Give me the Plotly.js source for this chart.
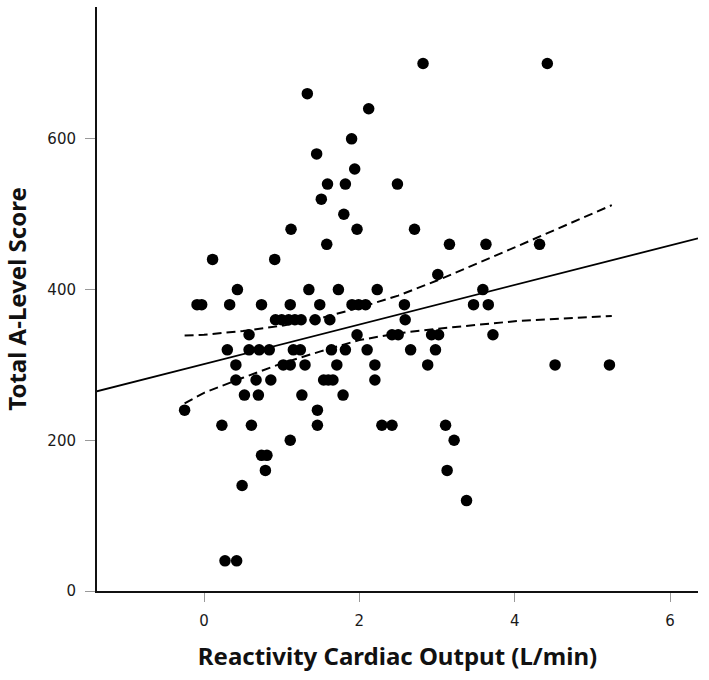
<!DOCTYPE html>
<html>
<head>
<meta charset="utf-8">
<script src="https://cdn.plot.ly/plotly-3.0.1.min.js"></script>
<style>
  html, body { margin: 0; padding: 0; background: #ffffff; }
  #chart { width: 709px; height: 680px; }
</style>
</head>
<body>
<div id="chart"></div>
<script>
// Observed points: Reactivity Cardiac Output (L/min) vs Total A-Level Score
const reactivityCO = [
  2.82, 4.42,
  1.33,
  2.12,
  1.90,
  1.45,
  1.94,
  1.59, 1.82, 2.49,
  1.51,
  1.80,
  1.12, 1.97, 2.71,
  1.58, 3.16, 3.63, 4.32,
  0.11, 0.91,
  3.01,
  0.43, 1.35, 1.73, 2.23, 3.59,
  -0.09, -0.03, 0.33, 0.74, 1.11, 1.49, 1.905, 1.99, 2.08, 2.58, 3.47, 3.66,
  0.92, 1.00, 1.09, 1.17, 1.25, 1.43, 1.62, 2.59,
  0.58, 1.97, 2.42, 2.50, 2.93, 3.02, 3.72,
  0.30, 0.58, 0.71, 0.84, 1.15, 1.24, 1.64, 1.82, 2.10, 2.66, 2.98,
  0.41, 1.02, 1.11, 1.30, 1.71, 2.20, 2.88, 4.52, 5.22,
  0.41, 0.67, 0.86, 1.54, 1.60, 1.66, 2.20,
  0.52, 0.70, 1.26, 1.79,
  -0.25, 1.46,
  0.23, 0.61, 1.46, 2.29, 2.42, 3.11,
  1.11, 3.22,
  0.74, 0.81,
  0.79, 3.13,
  0.49,
  3.38,
  0.27, 0.42
];
const aLevelScore = [
  700, 700,
  660,
  640,
  600,
  580,
  560,
  540, 540, 540,
  520,
  500,
  480, 480, 480,
  460, 460, 460, 460,
  440, 440,
  420,
  400, 400, 400, 400, 400,
  380, 380, 380, 380, 380, 380, 380, 380, 380, 380, 380, 380,
  360, 360, 360, 360, 360, 360, 360, 360,
  340, 340, 340, 340, 340, 340, 340,
  320, 320, 320, 320, 320, 320, 320, 320, 320, 320, 320,
  300, 300, 300, 300, 300, 300, 300, 300, 300,
  280, 280, 280, 280, 280, 280, 280,
  260, 260, 260, 260,
  240, 240,
  220, 220, 220, 220, 220, 220,
  200, 200,
  180, 180,
  160, 160,
  140,
  120,
  40, 40
];

// Fitted regression line (read at the plot edges)
const fitX = [-1.38, 6.36];
const fitY = [265, 468];

// 95% confidence band of the fit
const ciX     = [-0.25, 0.0, 0.5, 1.0, 1.5, 2.0, 2.5, 3.0, 4.0, 5.25];
const ciUpper = [339, 340, 345, 352, 362, 376, 392, 412, 456, 512];
const ciLower = [249, 263, 283, 302, 318, 333, 342, 348, 358, 365];

// Axis ticks
const xTicks = [0, 2, 4, 6];
const yTicks = [0, 200, 400, 600];

const traces = [
  {
    x: reactivityCO, y: aLevelScore, type: 'scatter', mode: 'markers',
    marker: { color: '#000000', size: 11.5, line: { width: 0 } },
    hoverinfo: 'x+y', showlegend: false
  },
  {
    x: fitX, y: fitY, type: 'scatter', mode: 'lines',
    line: { color: '#000000', width: 1.8 }, showlegend: false, hoverinfo: 'skip'
  },
  {
    x: ciX, y: ciUpper, type: 'scatter', mode: 'lines',
    line: { color: '#000000', width: 2, dash: '9px,5px' },
    showlegend: false, hoverinfo: 'skip'
  },
  {
    x: ciX, y: ciLower, type: 'scatter', mode: 'lines',
    line: { color: '#000000', width: 2, dash: '9px,5px' },
    showlegend: false, hoverinfo: 'skip'
  }
];

const tickFont = { family: 'DejaVu Sans, Verdana, sans-serif', size: 15, color: '#1a1a1a' };
const titleFont = { family: 'Noto Sans, Open Sans, sans-serif', size: 24, color: '#111111', weight: 'bold' };

const layout = {
  width: 709, height: 680,
  margin: { l: 97, r: 11, t: 7, b: 89, pad: 0 },
  paper_bgcolor: '#ffffff', plot_bgcolor: '#ffffff',
  showlegend: false,
  xaxis: {
    range: [-1.378, 6.36],
    tickvals: xTicks, ticktext: xTicks.map(String),
    ticks: 'outside', ticklen: 9, tickwidth: 1, tickcolor: '#999999',
    ticklabelstandoff: 6,
    showline: true, linecolor: '#111111', linewidth: 2,
    showgrid: false, zeroline: false,
    tickfont: tickFont,
    title: { text: '<b>Reactivity Cardiac Output (L/min)</b>', font: titleFont, standoff: 19 }
  },
  yaxis: {
    range: [0, 775],
    tickvals: yTicks, ticktext: yTicks.map(String),
    ticks: 'outside', ticklen: 10, tickwidth: 1, tickcolor: '#999999',
    ticklabelstandoff: 6,
    showline: true, linecolor: '#111111', linewidth: 2,
    showgrid: false, zeroline: false,
    tickfont: tickFont,
    title: { text: '<b>Total A-Level Score</b>', font: titleFont, standoff: 23 }
  }
};

Plotly.newPlot('chart', traces, layout, { displayModeBar: false, staticPlot: true });
</script>
</body>
</html>
